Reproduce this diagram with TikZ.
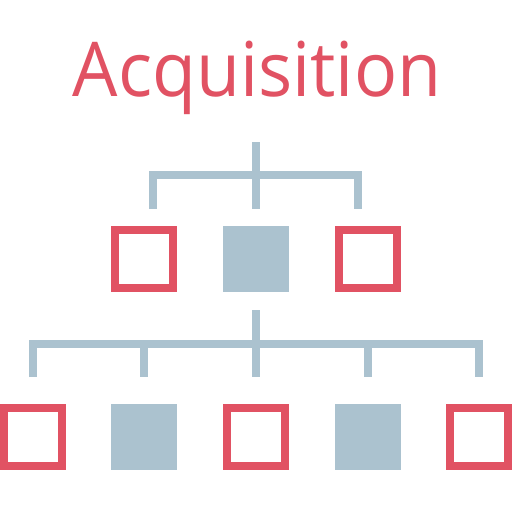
\documentclass[tikz,border=0pt]{standalone}
\usepackage{fontspec}
\setmainfont{Open Sans}
\usetikzlibrary{calc}
\definecolor{acqred}{HTML}{E15263}
\definecolor{acqblue}{HTML}{ABC2CF}

\begin{document}
\begin{tikzpicture}[
    x=1pt, y=-1pt,
    hollow/.style={rectangle, draw=acqred, line width=8pt, minimum size=58pt, inner sep=0pt},
    fullbox/.style={rectangle, fill=acqblue, minimum size=66pt, inner sep=0pt, outer sep=0pt},
    branch/.style={draw=acqblue, line width=8pt, line join=miter},
    title/.style={text=acqred, font=\fontsize{75.6}{80}\selectfont, inner sep=0pt, anchor=base, xscale=0.948}
]
    \useasboundingbox (0,0) rectangle (512,512);

    % Title
    \node[title] (ttl) at (257,96.7) {Acquisition};

    % First level (manual layout)
    \node[hollow]  (a1) at (144,259) {};
    \node[fullbox] (a2) at (256,259) {};
    \node[hollow]  (a3) at (368,259) {};

    % Second level
    \node[hollow]  (b1) at (33,437)  {};
    \node[fullbox] (b2) at (144,437) {};
    \node[hollow]  (b3) at (256,437) {};
    \node[fullbox] (b4) at (368,437) {};
    \node[hollow]  (b5) at (479,437) {};

    % Junctions of the trees
    \coordinate (top1) at (256,142);
    \coordinate (bar1) at (256,175.3);
    \coordinate (lft1) at (153,209);
    \coordinate (rgt1) at (358,209);
    \coordinate (top2) at (256,310);
    \coordinate (bar2) at (256,343.5);

    % Upper tree
    \draw[branch] (top1) -- ([yshift=17pt]a2.north);
    \draw[branch] (lft1) |- (bar1) -| (rgt1);

    % Lower tree
    \draw[branch] (top2) -- ([yshift=27pt]b3.north);
    \draw[branch] ([yshift=27pt]b1.north) |- (bar2) -| ([yshift=27pt]b5.north);
    \draw[branch] (bar2 -| b2) -- ([yshift=27pt]b2.north);
    \draw[branch] (bar2 -| b4) -- ([yshift=27pt]b4.north);
\end{tikzpicture}
\end{document}
